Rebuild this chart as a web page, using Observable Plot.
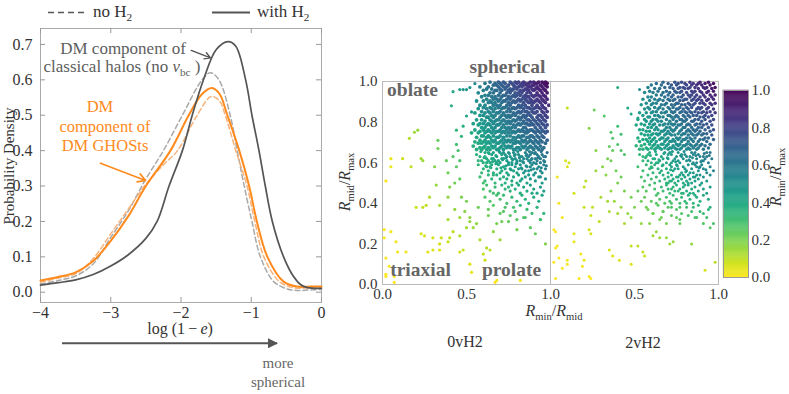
<!DOCTYPE html>
<html><head><meta charset="utf-8">
<script src="https://cdn.jsdelivr.net/npm/d3@7"></script>
<script src="https://cdn.jsdelivr.net/npm/@observablehq/plot@0.6"></script>
<style>
body{margin:0;background:#fff;}
#root{position:relative;width:789px;height:394px;overflow:hidden;font-family:"Liberation Serif","DejaVu Serif",serif;}
#root > svg{position:absolute;left:0;top:0;}
#root svg text{font-family:"Liberation Serif","DejaVu Serif",serif !important;}
.t{position:absolute;white-space:nowrap;line-height:1;font-family:"Liberation Serif","DejaVu Serif",serif;}
</style></head><body><div id="root"></div>
<script>
// ---------------- left panel: probability density of log(1-e) ----------------
const withH2ClassicalX = [-4,-3.75,-3.5,-3.25,-3,-2.75,-2.5,-2.34,-2.17,-1.98,-1.84,-1.68,-1.5,-1.33,-1.22,-1.08,-0.99,-0.89,-0.8,-0.7,-0.54,-0.4,-0.3,-0.2,0];
const withH2ClassicalY = [0.020,0.027,0.035,0.050,0.074,0.106,0.152,0.20,0.30,0.40,0.50,0.60,0.685,0.708,0.695,0.60,0.50,0.40,0.30,0.20,0.10,0.045,0.022,0.013,0.011];
const noH2ClassicalX = [-4,-3.75,-3.5,-3.25,-3,-2.75,-2.5,-2.25,-1.98,-1.7,-1.58,-1.46,-1.3,-1.2,-1.1,-0.99,-0.87,-0.68,-0.5,-0.35,-0.2,0];
const noH2ClassicalY = [0.023,0.033,0.046,0.08,0.155,0.23,0.32,0.40,0.50,0.60,0.62,0.60,0.50,0.40,0.30,0.20,0.10,0.03,0.010,0.005,0.006,0.008];
const withH2GhostX = [-4,-3.75,-3.5,-3.25,-3,-2.75,-2.5,-2.15,-1.89,-1.7,-1.56,-1.45,-1.34,-1.17,-1.03,-0.92,-0.77,-0.54,-0.35,-0.15,0];
const withH2GhostY = [0.033,0.043,0.056,0.088,0.145,0.215,0.30,0.40,0.50,0.56,0.577,0.56,0.50,0.40,0.30,0.20,0.10,0.03,0.016,0.016,0.016];
const noH2GhostX = [-4,-3.75,-3.5,-3.25,-3,-2.75,-2.5,-2.25,-2.05,-1.77,-1.57,-1.45,-1.37,-1.22,-1.06,-0.95,-0.82,-0.6,-0.4,-0.2,0];
const noH2GhostY = [0.028,0.04,0.052,0.095,0.165,0.235,0.305,0.36,0.40,0.50,0.553,0.54,0.50,0.40,0.30,0.20,0.10,0.03,0.013,0.012,0.014];
const logTicks = [-4,-3,-2,-1,0];
const densityTicks = [0,0.1,0.2,0.3,0.4,0.5,0.6,0.7];
// annotation arrows (data units)
const classicalArrow = [{x1:-1.855,y1:0.683,x2:-1.58,y2:0.662}];
const ghostArrow = [{x1:-3.146,y1:0.3645,x2:-2.505,y2:0.3156}];

// ---------------- right panels: R_mid/R_max vs R_min/R_mid ----------------
const ratioTicks = [0,0.2,0.4,0.6,0.8,1];
const panel0XTicks = [0,0.5,1];
const panel2XTicks = [0.5,1];
// isolated halos, [R_min/R_mid, R_mid/R_max] in hundredths
const sparse0vH2 = [[2,51],[5,62],[5,58],[12,62],[17,58],[16,72],[19,75],[21,76],[23,62],[24,61],[33,71],[33,67],[31,58],[32,49],[28,43],[26,39],[24,38],[20,38],[34,39],[39,43],[39,32],[35,23],[34,20],[30,23],[23,25],[25,24],[27,16],[30,17],[34,17],[14,16],[9,16],[8,21],[5,26],[1,27],[1,23],[2,13],[4,9],[2,5],[7,4],[2,4],[7,1],[53,6],[52,10],[61,12],[60,15],[62,18],[64,17],[67,1],[68,2],[82,2],[46,16],[48,17],[39,21],[40,23],[42,26],[46,24],[50,28],[52,31],[54,28],[56,30],[43,37],[46,33],[49,36],[52,33],[47,43],[50,41],[40,48],[43,50],[46,52],[39,55],[44,58],[46,61],[42,63],[38,61],[45,66],[44,69],[47,73],[41,88],[42,95],[46,96],[48,96],[50,96],[52,97],[55,99],[44,76],[48,78],[50,83],[53,85],[94,32],[96,35],[91,25],[97,20],[88,28],[58,22],[66,26],[70,22],[75,31],[80,27],[85,33],[72,36],[78,38],[63,34],[57,38],[68,30]];
const mid0vH2 = [[56,64],[59,61],[61,65],[62,62],[64,60],[65,64],[67,61],[68,63],[70,65],[70,60],[72,62],[73,64],[74,61],[76,63],[77,60],[78,65],[79,62],[81,64],[82,61],[83,63],[84,60],[85,65],[86,62],[88,64],[88,60],[89,62],[91,65],[92,61],[93,63],[95,64],[96,61],[97,63],[58,63],[63,65],[66,62],[69,61],[71,64],[75,65],[80,61],[87,63],[90,60],[94,62],[98,65],[60,60],[75,60],
[57,61],[61,63],[63,61],[66,65],[68,60],[71,62],[72,65],[74,63],[77,62],[79,64],[80,60],[82,63],[84,62],[86,64],[87,61],[89,65],[91,62],[92,64],[94,60],[96,63],[62,60],[65,62],
[58.5,65.5],[60.5,62.5],[63.5,64.5],[65.5,60.5],[67.5,63.5],[69.5,65.5],[71.5,61.5],[73.5,62.5],[75.5,64.5],[77.5,61.5],[78.5,63.5],[80.5,65.5],[81.5,62.5],[83.5,60.5],[85.5,63.5],[87.5,65.5],[88.5,61.5],[90.5,64.5],[92.5,62.5],[94.5,65.5],[96.5,60.5],[61.5,58.5],[64.5,57.5],[67.5,59.5],[70.5,57.5],[73.5,58.5],[76.5,56.5],[79.5,59.5],[82.5,57.5],[85.5,58.5],[88.5,56.5],[91.5,59.5],[94.5,57.5],[97.5,58.5],
[57,59],[60,57],[62,58],[63,56],[65,59],[66,55],[68,57],[69,59],[71,56],[72,58],[74,55],[75,59],[76,57],[78,56],[79,58],[80,55],[82,59],[83,57],[84,55],[86,58],[87,56],[89,59],[90,57],[91,55],[93,58],[94,56],[96,59],[97,57],[59,55],[64,58],[70,55],[73,57],[77,59],[81,57],[85,56],[88,58],[92,57],[95,55],
[58,53],[61,51],[63,54],[65,52],[67,50],[68,54],[70,52],[72,53],[73,50],[75,54],[77,51],[78,53],[80,50],[81,54],[83,52],[85,53],[86,50],[88,52],[90,54],[91,51],[93,53],[95,50],[97,52],[60,50],[66,54],[74,52],[82,51],[87,54],[94,53],
[60,47],[62,49],[64,46],[67,48],[69,45],[71,49],[73,47],[76,46],[77,49],[79,47],[82,45],[84,48],[86,46],[88,49],[90,47],[92,45],[94,48],[96,46],[66,45],[75,48],[81,49],[89,45],
[61,43],[64,41],[68,44],[70,42],[74,40],[77,43],[80,41],[83,44],[85,42],[87,40],[90,43],[93,41],[95,44],[72,44],
[63,37],[66,39],[70,35],[73,38],[76,34],[79,36],[82,39],[84,33],[86,37],[89,35],[92,38],[94,32],[71,31],[80,32]];
const sparse2vH2 = [[40,97],[53,96],[10,87],[26,86],[32,83],[23,77],[46,87],[48,84],[52,82],[36,75],[40,78],[42,74],[37,72],[27,66],[9,61],[10,58],[11,60],[4,53],[14,45],[5,40],[7,33],[2,27],[3,26],[4,19],[3,18],[5,13],[2,11],[10,12],[10,10],[7,8],[3,3],[14,25],[14,21],[18,15],[19,9],[17,3],[23,4],[24,3],[20,12],[21,51],[20,48],[20,38],[25,38],[24,34],[23,27],[24,25],[29,31],[30,43],[27,56],[31,58],[33,54],[36,61],[37,66],[34,62],[35,68],[40,69],[42,66],[44,64],[39,56],[42,53],[40,50],[44,46],[36,46],[34,41],[38,41],[42,38],[35,36],[40,35],[46,35],[44,30],[48,33],[35,17],[37,14],[41,12],[48,10],[48,19],[52,19],[55,16],[56,14],[61,24],[65,23],[69,23],[63,26],[73,21],[71,20],[84,20],[92,7],[98,11],[93,33],[95,28],[97,30],[91,30],[87,33],[82,34],[77,30],[75,33],[69,30],[65,32],[59,30],[54,30],[50,38],[54,41],[48,43],[52,46],[57,38],[61,35],[63,40],[67,36],[72,38],[77,38],[81,40],[85,38],[89,36],[95,38]];
const mid2vH2 = [[53,64],[55,61],[57,63],[59,65],[60,60],[62,62],[63,64],[65,61],[66,63],[68,65],[69,60],[70,62],[72,64],[73,61],[75,63],[76,65],[77,60],[79,62],[80,64],[81,61],[83,63],[84,65],[85,60],[87,62],[88,64],[90,61],[91,63],[93,65],[94,60],[96,62],[58,61],[64,60],[71,65],[78,63],[86,65],[92,62],
[55,63],[58,64],[61,62],[63,60],[67,62],[70,64],[72,60],[74,62],[76,61],[78,64],[81,63],[83,61],[85,64],[87,60],[89,63],[91,61],[93,63],[95,65],
[56.5,62.5],[59.5,63.5],[62.5,65.5],[64.5,61.5],[67.5,64.5],[69.5,62.5],[72.5,65.5],[74.5,60.5],[77.5,63.5],[79.5,65.5],[82.5,61.5],[84.5,62.5],[86.5,63.5],[89.5,60.5],[91.5,64.5],[94.5,63.5],[60.5,57.5],[66.5,58.5],[71.5,56.5],[75.5,58.5],[80.5,55.5],[84.5,59.5],[88.5,57.5],[92.5,56.5],
[52,58],[55,56],[57,59],[59,57],[61,55],[62,59],[64,57],[66,56],[67,59],[69,57],[70,55],[72,58],[73,56],[75,59],[76,57],[78,55],[79,58],[81,56],[82,59],[84,57],[85,55],[87,58],[88,56],[90,59],[91,57],[93,55],[95,58],[97,56],[60,58],[65,55],[71,59],[74,57],[80,57],[83,55],[86,59],[89,58],
[54,53],[56,51],[58,54],[60,52],[62,50],[63,53],[65,51],[67,54],[68,52],[69,50],[70,53],[71,51],[72,54],[73,52],[74,50],[75,53],[76,51],[77,54],[78,52],[79,50],[80,53],[81,51],[82,54],[83,52],[84,50],[85,53],[86,51],[87,54],[88,52],[90,50],[91,53],[93,51],[95,54],[70,50],[72,51],[76,53],[79,54],[82,50],[86,53],[89,54],
[55,48],[57,46],[59,49],[62,47],[64,45],[66,48],[67,46],[69,49],[70,47],[71,45],[73,48],[74,46],[75,49],[77,47],[78,45],[79,48],[81,46],[82,49],[84,47],[85,45],[86,48],[88,46],[89,49],[91,47],[93,45],[95,48],[72,47],[76,46],[80,49],[83,45],
[56,43],[60,41],[63,44],[65,42],[68,40],[69,43],[71,41],[73,44],[75,42],[77,40],[78,43],[80,41],[82,44],[83,42],[85,40],[87,43],[89,41],[91,44],[94,42],[72,40],[79,45],[86,44],
[58,37],[61,35],[64,39],[67,36],[70,38],[72,34],[75,37],[78,35],[81,38],[84,36],[86,33],[88,39],[91,35],[94,37],[66,33],[77,32]];
// crowded core, rows of [R_mid/R_max, [R_min/R_mid ...]] in hundredths
const core0vH2 = [
[99.7,[64,69,72,76,79,81,84,88,90,93,95,97]],
[99.1,[61,67,70,73,77,80,83,85,87,91,92,96,98]],
[98.2,[66,68,71,75,78,82,84,86,89,90,94,97]],
[97.4,[58,63,69,72,74,79,81,83,87,88,92,95,98]],
[96.3,[62,65,70,73,76,78,80,85,86,89,91,93,96]],
[95.6,[60,67,68,71,75,77,82,84,87,90,94,97]],
[94.4,[57,64,66,70,74,76,79,81,83,86,88,92,95,98]],
[93.2,[61,63,69,72,73,78,80,82,85,89,91,93,96]],
[92.5,[59,65,67,71,75,77,79,84,86,87,90,94,97]],
[91.3,[62,66,68,70,74,76,81,83,85,88,92,95,98]],
[90.4,[56,60,64,69,72,73,78,80,82,86,89,91,93,96]],
[89.6,[63,65,67,71,75,77,79,84,87,88,90,94,97]],
[88.3,[58,61,66,68,70,74,76,81,83,85,89,92,95,99]],
[87.1,[60,64,69,72,73,78,80,82,86,87,91,93,96]],
[86.6,[57,62,65,67,71,75,77,79,84,88,90,94,97]],
[85.2,[59,63,66,70,74,76,81,83,85,86,89,92,95,98]],
[84.5,[55,61,64,68,69,72,78,80,82,87,90,91,96]],
[83.3,[58,60,65,67,71,73,75,77,79,84,86,88,93,94,97]],
[82.4,[62,63,66,70,74,76,81,83,85,89,92,95,98]],
[81.1,[56,59,64,68,69,72,78,80,82,86,87,90,93,96]],
[80.5,[61,65,67,71,73,75,77,79,84,88,91,94,97]],
[79.2,[54,58,60,63,66,70,74,76,81,83,85,86,89,92,95]],
[78.6,[57,62,64,68,69,72,78,80,82,87,88,90,93,96,98]],
[77.3,[59,61,65,67,71,73,75,77,79,84,85,91,94,97]],
[76.1,[55,60,63,66,70,74,76,81,83,86,88,89,92,95]],
[75.4,[58,62,64,68,69,72,78,80,82,84,87,90,93,96,98]],
[74.7,[53,57,61,65,67,71,73,75,77,79,85,86,91,94,97]],
[73.2,[59,60,63,66,70,74,76,81,83,84,88,89,92,95]],
[72.5,[56,62,64,68,69,72,78,80,82,86,87,90,93,96]],
[71.1,[58,61,65,67,71,73,75,77,79,83,85,88,91,94,98]],
[70.3,[55,60,63,66,70,74,76,80,81,84,87,89,92,95]],
[69.6,[57,59,62,64,68,69,72,78,79,82,86,90,93,97]],
[68.2,[54,61,65,67,71,73,75,77,83,85,88,91,94]],
[67.4,[58,60,63,66,70,74,76,80,81,84,87,89,92,96]],
[66.5,[56,59,62,64,68,69,72,78,79,82,86,90,93,95]]
];
const core2vH2 = [
[99.6,[67,74,78,83,89,94]],
[99.0,[63,70,76,80,85,88,92,97]],
[98.3,[60,66,72,75,81,84,87,90,95]],
[97.1,[58,68,71,77,79,83,86,91,93,98]],
[96.5,[62,65,73,76,80,82,88,92,96]],
[95.2,[59,64,69,74,78,84,86,89,94,97]],
[94.6,[56,61,67,71,75,77,81,85,90,93]],
[93.3,[63,66,70,73,79,82,84,87,91,95,98]],
[92.4,[58,60,68,72,76,78,83,86,89,92,96]],
[91.2,[55,62,65,70,74,80,81,85,88,94,97]],
[90.6,[59,64,67,71,73,77,79,84,87,90,93]],
[89.3,[57,61,63,69,75,76,82,86,89,91,95,98]],
[88.5,[54,60,66,68,72,74,78,80,83,85,92,96]],
[87.2,[58,62,65,70,73,77,81,84,88,90,94]],
[86.4,[56,59,64,67,71,75,76,79,82,87,89,93,97]],
[85.1,[61,63,69,72,74,78,80,83,86,91,95]],
[84.6,[53,57,60,66,68,73,77,81,84,88,90,93,98]],
[83.2,[55,62,64,70,71,75,79,82,85,87,92,96]],
[82.5,[58,59,65,67,72,74,76,80,83,89,91,94]],
[81.3,[52,56,61,63,69,73,77,78,81,86,88,92,97]],
[80.4,[57,60,64,66,71,75,79,80,84,85,90,95]],
[79.1,[54,59,62,68,70,72,74,78,82,87,89,93]],
[78.6,[51,56,61,65,67,73,76,77,81,83,86,91,96]],
[77.4,[58,60,63,69,71,75,79,80,84,88,90,94]],
[76.2,[53,55,62,64,68,72,74,78,82,85,87,92,97]],
[75.5,[57,59,66,67,70,73,77,81,83,86,89,95]],
[74.3,[54,61,63,65,69,71,76,79,80,84,88,91,93]],
[73.6,[56,58,60,64,68,72,74,78,82,85,87,90,96]],
[72.2,[52,59,62,66,67,70,75,77,81,83,86,92,94]],
[71.4,[55,57,61,65,69,73,76,79,80,84,89,91,97]],
[70.5,[53,58,60,63,68,71,72,74,78,82,85,88,93]],
[69.1,[56,59,62,66,67,70,75,77,81,83,87,90,95]],
[68.4,[51,54,61,64,69,73,76,79,80,84,86,89,92]],
[67.2,[57,60,63,65,68,71,72,74,78,82,85,88,94]],
[66.6,[53,55,58,62,66,70,75,77,81,83,87,91]]
];
const colorbarTicks = [0,0.2,0.4,0.6,0.8,1];

// ---------------- build ----------------
const W = 789, H = 394;
const root = document.getElementById("root");
const serif = '"Liberation Serif","DejaVu Serif",serif';
const ORANGE = "#ff8a1e", PEACH = "#f7b37c", DARK = "#555555", GRAY = "#a9a9a9";
const toSeries = (xs, ys) => xs.map((x, i) => ({x, y: ys[i]}));
const baseStyle = {background: "transparent", fontFamily: serif, color: "#333", overflow: "visible"};

// left chart frame: x from 40 to 321, y from 28 to 302
const L = {l: 40, r: 321, t: 28, b: 302};
const fw = L.r - L.l, fh = L.b - L.t;
const leftPlot = Plot.plot({
  width: W, height: H,
  marginLeft: L.l, marginRight: W - L.r, marginTop: L.t, marginBottom: H - L.b,
  x: {domain: [-4, 0]},
  y: {domain: [-0.029, 0.745]},
  style: {...baseStyle, fontSize: "16px"},
  marks: [
    Plot.frame({stroke: "#aaa"}),
    Plot.tickX(logTicks, {x: d => d, stroke: "#999", insetTop: fh - 5}),
    Plot.tickX(logTicks, {x: d => d, stroke: "#999", insetBottom: fh - 5}),
    Plot.tickY(densityTicks, {y: d => d, stroke: "#999", insetRight: fw - 5}),
    Plot.tickY(densityTicks, {y: d => d, stroke: "#999", insetLeft: fw - 5}),
    Plot.axisX({ticks: logTicks, tickSize: 0, tickPadding: 4, tickFormat: d3.format("d"), label: null}),
    Plot.axisY({ticks: densityTicks, tickSize: 0, tickPadding: 8, tickFormat: d3.format(".1f"), label: null}),
    Plot.line(toSeries(noH2ClassicalX, noH2ClassicalY), {x: "x", y: "y", stroke: GRAY, strokeWidth: 1.5, strokeDasharray: "5,3", curve: "catmull-rom"}),
    Plot.line(toSeries(noH2GhostX, noH2GhostY), {x: "x", y: "y", stroke: PEACH, strokeWidth: 1.5, strokeDasharray: "5,3", curve: "catmull-rom"}),
    Plot.line(toSeries(withH2GhostX, withH2GhostY), {x: "x", y: "y", stroke: ORANGE, strokeWidth: 2, curve: "catmull-rom"}),
    Plot.line(toSeries(withH2ClassicalX, withH2ClassicalY), {x: "x", y: "y", stroke: DARK, strokeWidth: 1.7, curve: "catmull-rom"}),
    Plot.arrow(classicalArrow, {x1: "x1", y1: "y1", x2: "x2", y2: "y2", stroke: DARK, strokeWidth: 1.4, headLength: 7}),
    Plot.arrow(ghostArrow, {x1: "x1", y1: "y1", x2: "x2", y2: "y2", stroke: ORANGE, strokeWidth: 1.6, headLength: 8})
  ]
});
root.appendChild(leftPlot);

// scatter panels
const color = {type: "linear", scheme: "viridis", reverse: true, domain: [0, 1]};
const P = {t: 81, b: 284};
const fromPairs = pairs => pairs.map(([x, y]) => ({x: x / 100, y: y / 100}));
const fromRows = rows => rows.flatMap(([y, xs]) => xs.map(x => ({x: x / 100, y: y / 100})));
function panel(loose, core, left, right, xTicks, withY, rLoose, rCore) {
  const marks = [
    Plot.frame({stroke: "#bbb"}),
    Plot.dot(loose, {x: "x", y: "y", r: rLoose, fill: d => d.x * d.y}),
    Plot.dot(core, {x: "x", y: "y", r: rCore, fill: d => d.x * d.y}),
    Plot.axisX({ticks: xTicks, tickSize: 0, tickPadding: 4, tickFormat: d3.format(".1f"), label: null})
  ];
  if (withY) marks.push(Plot.axisY({ticks: ratioTicks, tickSize: 0, tickPadding: 5, tickFormat: d3.format(".1f"), label: null}));
  return Plot.plot({
    width: W, height: H,
    marginLeft: left, marginRight: W - right, marginTop: P.t, marginBottom: H - P.b,
    x: {domain: [0, 1]},
    y: withY ? {domain: [0, 1]} : {domain: [0, 1], axis: null},
    color,
    style: {...baseStyle, fontSize: "15px"},
    marks
  });
}
root.appendChild(panel(fromPairs([...sparse0vH2, ...mid0vH2]), fromRows(core0vH2), 382, 550, panel0XTicks, true, 1.6, 1.9));
root.appendChild(panel(fromPairs([...sparse2vH2, ...mid2vH2]), fromRows(core2vH2), 550, 718, panel2XTicks, false, 1.5, 1.75));

// colorbar
const cbStep = 0.005;
const cbStops = d3.range(0, 1, cbStep);
const cb = Plot.plot({
  width: W, height: H,
  marginLeft: 723, marginRight: W - 748, marginTop: 90, marginBottom: H - 277,
  x: {domain: [0, 1], axis: null},
  y: {domain: [0, 1]},
  color,
  style: {...baseStyle, fontSize: "15px"},
  marks: [
    Plot.rect(cbStops, {x1: () => 0, x2: () => 1, y1: d => d, y2: d => Math.min(1, d + cbStep), fill: d => d + cbStep / 2, stroke: d => d + cbStep / 2, strokeWidth: 0.4}),
    Plot.frame({stroke: "#999"}),
    Plot.axisY({anchor: "right", ticks: colorbarTicks, tickSize: 0, tickPadding: 3, tickFormat: d3.format(".1f"), label: null})
  ]
});
root.appendChild(cb);

// decorations (legend swatches, bottom arrow)
const deco = d3.select(root).append("svg").attr("width", W).attr("height", H);
deco.append("line").attr("x1", 48).attr("x2", 88).attr("y1", 12.5).attr("y2", 12.5).attr("stroke", "#555").attr("stroke-width", 1.6).attr("stroke-dasharray", "6,4");
deco.append("line").attr("x1", 212).attr("x2", 250).attr("y1", 12.5).attr("y2", 12.5).attr("stroke", "#555").attr("stroke-width", 1.8);
const defs = deco.append("defs");
defs.append("marker").attr("id", "ah").attr("viewBox", "0 0 10 10").attr("refX", 9).attr("refY", 5)
  .attr("markerWidth", 5).attr("markerHeight", 5).attr("orient", "auto")
  .append("path").attr("d", "M0,0L10,5L0,10z").attr("fill", "#555");
deco.append("line").attr("x1", 62).attr("x2", 277).attr("y1", 343.3).attr("y2", 343.3).attr("stroke", "#555").attr("stroke-width", 2).attr("marker-end", "url(#ah)");

// text labels
const sub = s => `<span style="font-size:0.66em;vertical-align:-0.35em">${s}</span>`;
function label(html, x, y, o = {}) {
  const d = document.createElement("div");
  d.className = "t";
  d.innerHTML = html;
  d.style.left = x + "px";
  d.style.top = y + "px";
  const ax = o.anchor === "start" ? "0" : "-50%";
  d.style.transform = `translate(${ax},-50%)` + (o.rotate ? ` rotate(${o.rotate}deg)` : "");
  d.style.fontSize = (o.size || 16) + "px";
  d.style.color = o.color || "#333";
  if (o.bold) d.style.fontWeight = "bold";
  root.appendChild(d);
}
label(`no H${sub("2")}`, 93, 13, {anchor: "start", size: 17});
label(`with H${sub("2")}`, 257, 13, {anchor: "start", size: 17});
label("Probability Density", 9, 166, {rotate: -90, size: 15});
label("log (1\u2009\u2212\u2009<i>e</i>)", 180, 329, {size: 16});
label("more", 278, 363, {size: 15, color: "#666"});
label("spherical", 278, 382, {size: 15, color: "#666"});
label("DM component of", 123, 48, {size: 17, color: "#5e5e5e"});
label(`classical halos (no <i>v</i>${sub("bc")} )`, 122, 68, {size: 17, color: "#5e5e5e"});
label("DM", 100, 107, {size: 16.5, color: ORANGE});
label("component of", 105, 127, {size: 16.5, color: ORANGE});
label("DM GHOSts", 105, 146, {size: 16.5, color: ORANGE});
label("spherical", 507.5, 67, {size: 19.5, bold: true, color: "#666"});
label("oblate", 412.5, 90, {size: 19.5, bold: true, color: "#666"});
label("triaxial", 420.5, 270, {size: 19.5, bold: true, color: "#666"});
label("prolate", 511.5, 270, {size: 19.5, bold: true, color: "#666"});
label(`<i>R</i>${sub("min")}/<i>R</i>${sub("mid")}`, 554, 313, {size: 16});
label("0vH2", 465, 342, {size: 16});
label("2vH2", 643, 343, {size: 16});
label(`<i>R</i>${sub("mid")}/<i>R</i>${sub("max")}`, 347, 182, {size: 16, rotate: -90});
label(`<i>R</i>${sub("min")}/<i>R</i>${sub("max")}`, 778, 177, {size: 16, rotate: -90});
</script>
</body></html>
